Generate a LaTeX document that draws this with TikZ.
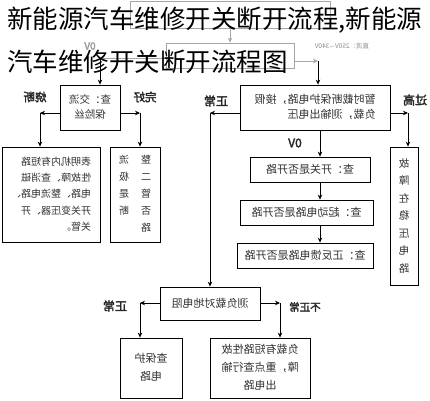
\documentclass[tikz,border=0pt]{standalone}
\usepackage{fontspec}
\usepackage{graphicx}
\setmainfont{Noto Sans CJK SC}
\newfontfamily\boldcjk[FakeBold=2.5]{Noto Sans CJK SC}
\usetikzlibrary{arrows.meta}

% mirrored text, centred or left aligned
\newcommand{\mirc}[1]{\reflectbox{\begin{tabular}{@{}c@{}}#1\end{tabular}}}
\newcommand{\mirl}[1]{\reflectbox{\begin{tabular}{@{}l@{}}#1\end{tabular}}}

\tikzstyle{box} = [draw, line width=0.8pt, inner sep=0pt, text=black!80]
\tikzstyle{faded box} = [box, draw=black!35, text=black!40]
\tikzstyle{flow} = [draw, line width=0.8pt, -{Stealth[length=5pt,width=4.5pt]}]
\tikzstyle{faded flow} = [flow, draw=black!35]
\tikzstyle{tag} = [inner sep=0pt, text=black!85, font=\boldcjk\fontsize{11.5}{12}\selectfont]
\tikzstyle{title} = [inner sep=0pt, anchor=west, font=\fontsize{25.5}{26}\selectfont]

\begin{document}
\begin{tikzpicture}[x=1pt, y=-1pt]
    \path[fill=white, use as bounding box] (0,0) rectangle (430,400);

    % top part, half hidden by the title
    \node[faded box, minimum width=200, minimum height=27] (topbox) at (230,14.5) {};
    \node[faded box, minimum width=128, minimum height=25] (measbox) at (230,55.5) {};
    \node[tag, text=black!40, font=\boldcjk\fontsize{10}{11}\selectfont] (zerotag) at (90,46) {\reflectbox{0V}};
    \node[tag, text=black!45, font=\fontsize{6.5}{7}\selectfont] (dctag) at (342,46) {\reflectbox{直流：250V$\sim$340V}};

    % boxes
    \node[box, minimum width=60, minimum height=45, font=\fontsize{10.5}{15}\selectfont] (fusebox) at (90,107.5) {\mirc{查：交流\\保险丝}};
    \node[box, minimum width=98, minimum height=95, font=\fontsize{10}{16.3}\selectfont] (faultbox) at (51,194.5)
        {\mirl{表明机内有短路\\性故障、查消磁\\电路、整流电路、\\开关变压器、开\\关管。}};
    \node[box, minimum width=50, minimum height=95, font=\fontsize{10}{17}\selectfont] (diodebox) at (135,194.5)
        {\mirl{整\hspace{12pt}流\\二\hspace{12pt}极\\管\hspace{12pt}是\\否\hspace{12pt}断\\路}};
    \node[box, minimum width=150, minimum height=45, font=\fontsize{11}{15}\selectfont] (protbox) at (315,107.5)
        {\mirl{暂时截断保护电路，接假\\负载，测输出电压}};
    \node[box, minimum width=120, minimum height=25, font=\fontsize{11}{12}\selectfont] (swbox) at (310,169.5) {\reflectbox{查：开关是否开路}};
    \node[box, minimum width=133, minimum height=25, font=\fontsize{11}{12}\selectfont] (startbox) at (306.5,212.5) {\reflectbox{查：起动电路是否开路}};
    \node[box, minimum width=136, minimum height=25, font=\fontsize{11}{12}\selectfont] (fbbox) at (305,255.5) {\reflectbox{查：正反馈电路是否开路}};
    \node[box, minimum width=28, minimum height=138, font=\fontsize{10.5}{17.5}\selectfont] (regbox) at (404,216)
        {\mirc{故\\障\\在\\稳\\压\\电\\路}};
    \node[box, minimum width=100, minimum height=33, font=\fontsize{11}{12}\selectfont] (loadbox) at (210,303.5) {\reflectbox{测负载对地电阻}};
    \node[box, minimum width=62, minimum height=60, font=\fontsize{11}{18}\selectfont] (guardbox) at (151,368) {\mirc{查保护\\电路}};
    \node[box, minimum width=100, minimum height=60, font=\fontsize{11}{18}\selectfont] (outbox) at (260,368)
        {\mirc{负载有短路性故\\障，重点查行输\\出电路}};

    % labels
    \node[tag] (blowntag) at (35,97) {\reflectbox{烧断}};
    \node[tag] (goodtag) at (145,97) {\reflectbox{完好}};
    \node[tag, font=\boldcjk\fontsize{12}{13}\selectfont] (oktag) at (216,101) {\reflectbox{正常}};
    \node[tag, font=\boldcjk\fontsize{12}{13}\selectfont] (hightag) at (415,100) {\reflectbox{过高}};
    \node[tag, font=\boldcjk\fontsize{12}{13}\selectfont] (zvtag) at (295,143) {\reflectbox{0V}};
    \node[tag, font=\boldcjk\fontsize{12}{13}\selectfont] (ok2tag) at (115,306) {\reflectbox{正常}};
    \node[tag, font=\boldcjk\fontsize{10.5}{11}\selectfont] (badtag) at (305,307) {\reflectbox{不正常}};

    % corners
    \coordinate (k1) at (100,58);
    \coordinate (k2) at (318,61);
    \coordinate (f1) at (40,113);
    \coordinate (f2) at (140,113);
    \coordinate (p1) at (210,113);
    \coordinate (p2) at (408,113);
    \coordinate (col) at (320,0);
    \coordinate (l1) at (140,303);
    \coordinate (l2) at (280,303);

    \path[faded flow] (topbox) -- (measbox);
    \path[faded flow] (measbox.west |- k1) -- (k1);
    \path[faded flow] (measbox.east |- k2) -- (k2);
    \path[flow] (k1) -- (k1 |- fusebox.north);
    \path[flow] (k2) -- (k2 |- protbox.north);
    \foreach \side/\corner/\target in {fusebox.west/f1/faultbox, fusebox.east/f2/diodebox,
                                       protbox.west/p1/loadbox, protbox.east/p2/regbox,
                                       loadbox.west/l1/guardbox, loadbox.east/l2/outbox} {
        \path[flow] (\side |- \corner) -- (\corner);
        \path[flow] (\corner) -- (\corner |- \target.north);
    }
    \foreach \source/\sink in {protbox/swbox, swbox/startbox, startbox/fbbox} {
        \path[flow] (\source.south -| col) -- (\sink.north -| col);
    }

    % title on top
    \node[title] (title1) at (7,20.5) {新能源汽车维修开关断开流程,新能源};
    \node[title] (title2) at (7,61.5) {汽车维修开关断开流程图};
\end{tikzpicture}
\end{document}
